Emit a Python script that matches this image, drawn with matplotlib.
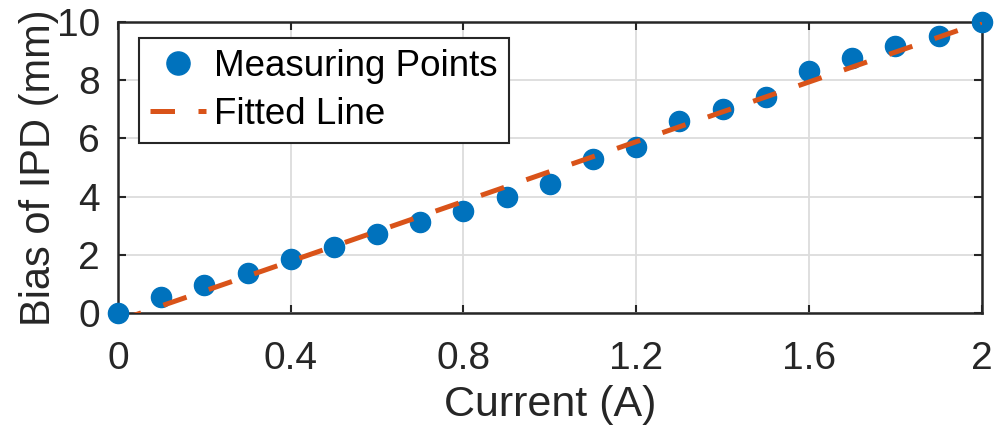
import numpy as np
import matplotlib
matplotlib.use("Agg")
import matplotlib.pyplot as plt

# Measured bias of IPD vs driving current
current = [0.0, 0.1, 0.2, 0.3, 0.4, 0.5, 0.6, 0.7, 0.8, 0.9, 1.0,
           1.1, 1.2, 1.3, 1.4, 1.5, 1.6, 1.7, 1.8, 1.9, 2.0]
bias = [0.0, 0.57, 0.97, 1.39, 1.85, 2.29, 2.72, 3.12, 3.51, 3.99, 4.42,
        5.28, 5.71, 6.59, 6.99, 7.43, 8.32, 8.74, 9.17, 9.52, 10.0]

# Fitted line end points
fit_x = [0.0, 2.0]
fit_y = [-0.26, 9.98]

x_ticks = [0, 0.4, 0.8, 1.2, 1.6, 2]
x_tick_labels = ["0", "0.4", "0.8", "1.2", "1.6", "2"]
y_ticks = [0, 2, 4, 6, 8, 10]

BLUE = "#0072BD"
ORANGE = "#D95319"
DARK = "#262626"

plt.rcParams['font.family'] = ['Liberation Sans', 'DejaVu Sans']

fig = plt.figure(figsize=(9.97, 4.46), dpi=100)
ax = fig.add_axes([118 / 997, 1 - 313.3 / 446, (981.7 - 118) / 997, (313.3 - 21.7) / 446])

ax.plot(current, bias, 'o', color=BLUE, markersize=14.5, label="Measuring Points",
        zorder=3, clip_on=False)
ax.plot(fit_x, fit_y, color=ORANGE, linewidth=3.6, linestyle=(0, (4.9, 4.7)),
        label="Fitted Line", zorder=4)

ax.set_xlim(0, 2)
ax.set_ylim(0, 10)
ax.set_xticks(x_ticks)
ax.set_xticklabels(x_tick_labels)
ax.set_yticks(y_ticks)

ax.grid(True, color="#dcdcdc", linewidth=1.3)
ax.set_axisbelow(True)

for s in ax.spines.values():
    s.set_color(DARK)
    s.set_linewidth(1.8)

ax.tick_params(direction='in', length=6, width=1.5, colors=DARK, labelsize=28,
               top=True, right=True, labelcolor=DARK)
ax.tick_params(axis='x', pad=20)
ax.tick_params(axis='y', pad=13)

ax.set_xlabel("Current (A)", fontsize=31, color=DARK, labelpad=6)
ax.set_ylabel("Bias of IPD (mm)", fontsize=30, color=DARK, labelpad=-2)

leg = ax.legend(loc='upper left', bbox_to_anchor=(0.024, 0.945), fontsize=26.5,
                frameon=True, fancybox=False, edgecolor=DARK, framealpha=1,
                handlelength=1.53, handletextpad=0.22, borderpad=0.3,
                labelspacing=0.36, borderaxespad=0, markerscale=1.15)
leg.get_frame().set_linewidth(1.5)
for t in leg.get_texts():
    t.set_color("black")

fig.savefig("out.png", dpi=100)
